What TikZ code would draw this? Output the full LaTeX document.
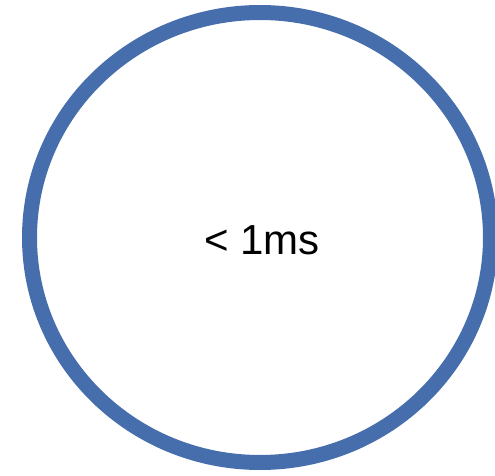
\documentclass[tikz,border=0pt]{standalone}
\usepackage{fontspec}
\setmainfont{Liberation Sans}
\definecolor{ringblue}{RGB}{70,110,172}
\tikzset{ring/.style={draw=ringblue,line width=15pt,fill=none},
  lbl/.style={font=\fontsize{42}{50}\selectfont,inner sep=0pt,text=black}}
\begin{document}
\begin{tikzpicture}[x=1pt,y=-1pt]
\useasboundingbox (0,0) rectangle (495,476);
\draw[ring] (260,237.5) ellipse [x radius=230.5, y radius=225];
\node[lbl] (t) at (262,240) {< 1ms};
\end{tikzpicture}
\end{document}
